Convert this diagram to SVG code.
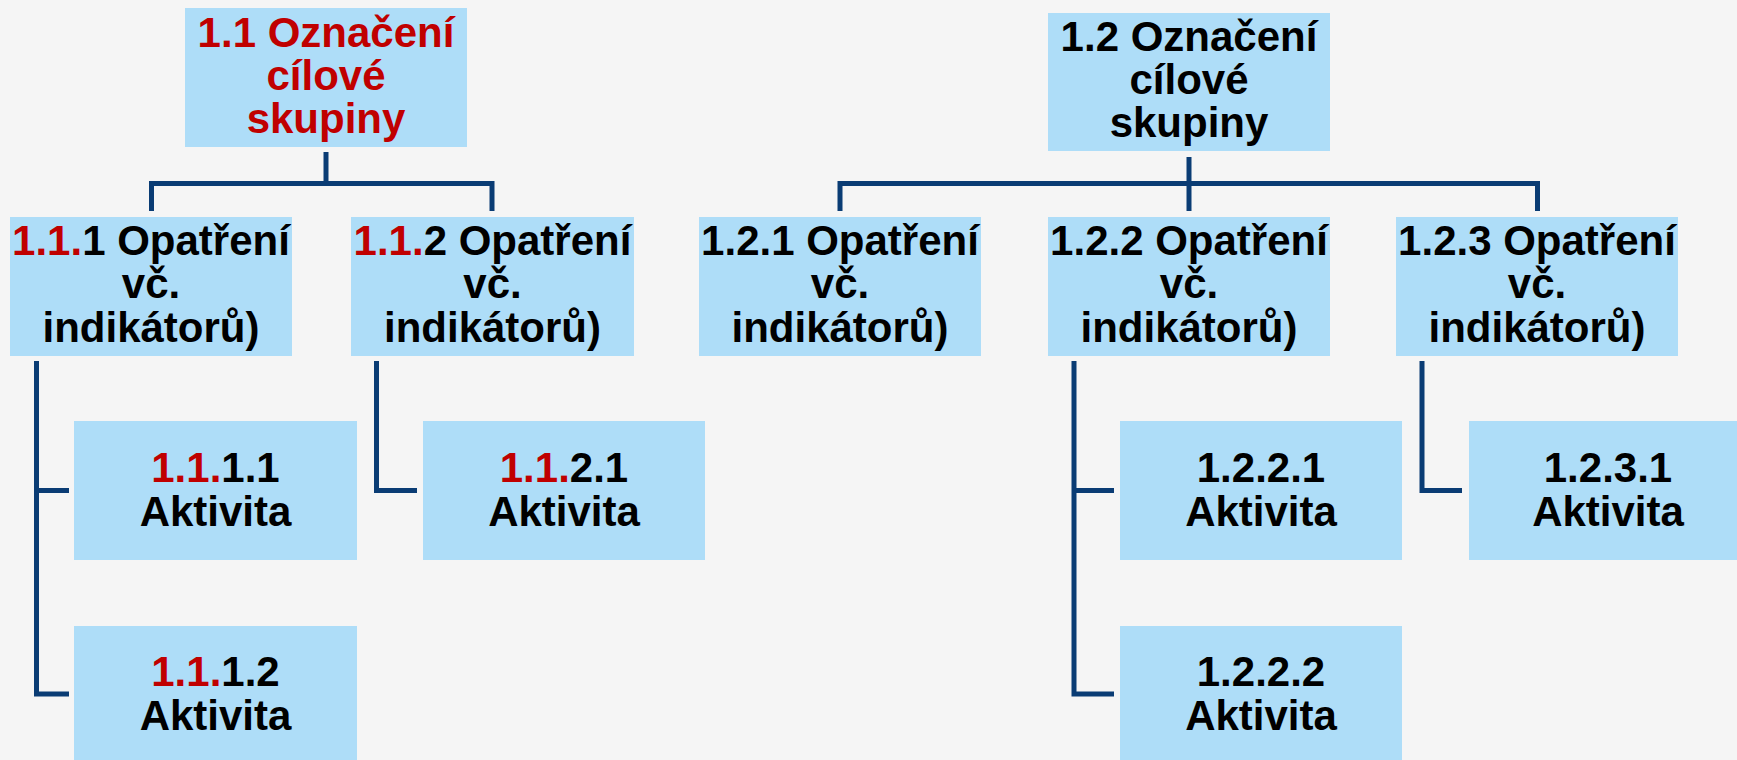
<svg xmlns="http://www.w3.org/2000/svg" width="1737" height="760" viewBox="0 0 1737 760">
<style>
.box{fill:#AEDDF8}
.t{font-family:"Liberation Sans",Arial,sans-serif;font-weight:bold;font-size:42px;fill:#000;text-anchor:middle}
.r{fill:#C00000}
.c{fill:none;stroke:#0A3C74;stroke-width:5;stroke-linejoin:miter}
</style>
<rect width="1737" height="760" fill="#F5F5F5"/>
<g id="connectors">
<path class="c" d="M326 152 V183.5"/>
<path class="c" d="M151.5 211 V183.5 H492 V211"/>
<path class="c" d="M1189 157 V211"/>
<path class="c" d="M840 211 V183.5 H1537.5 V211"/>
<path class="c" d="M36.5 361 V694 H69"/>
<path class="c" d="M36.5 490.5 H69"/>
<path class="c" d="M376.5 361 V490.5 H417"/>
<path class="c" d="M1074 361 V694 H1114"/>
<path class="c" d="M1074 490.5 H1114"/>
<path class="c" d="M1422 361 V490.5 H1462"/>
</g>
<g id="n1_1">
<rect class="box" x="185" y="8" width="282" height="139"/>
<text class="t r" x="326" y="47">1.1 Označení</text>
<text class="t r" x="326" y="90">cílové</text>
<text class="t r" x="326" y="133">skupiny</text>
</g>
<g id="n1_2">
<rect class="box" x="1048" y="13" width="282" height="138"/>
<text class="t" x="1189" y="51">1.2 Označení</text>
<text class="t" x="1189" y="94">cílové</text>
<text class="t" x="1189" y="137">skupiny</text>
</g>
<g id="n1_1_1">
<rect class="box" x="10" y="217" width="282" height="139"/>
<text class="t" x="151" y="255"><tspan class="r">1.1.</tspan>1 Opatření</text>
<text class="t" x="151" y="298">vč.</text>
<text class="t" x="151" y="342">indikátorů)</text>
</g>
<g id="n1_1_2">
<rect class="box" x="351" y="217" width="283" height="139"/>
<text class="t" x="492.5" y="255"><tspan class="r">1.1.</tspan>2 Opatření</text>
<text class="t" x="492.5" y="298">vč.</text>
<text class="t" x="492.5" y="342">indikátorů)</text>
</g>
<g id="n1_2_1">
<rect class="box" x="699" y="217" width="282" height="139"/>
<text class="t" x="840" y="255">1.2.1 Opatření</text>
<text class="t" x="840" y="298">vč.</text>
<text class="t" x="840" y="342">indikátorů)</text>
</g>
<g id="n1_2_2">
<rect class="box" x="1048" y="217" width="282" height="139"/>
<text class="t" x="1189" y="255">1.2.2 Opatření</text>
<text class="t" x="1189" y="298">vč.</text>
<text class="t" x="1189" y="342">indikátorů)</text>
</g>
<g id="n1_2_3">
<rect class="box" x="1396" y="217" width="282" height="139"/>
<text class="t" x="1537" y="255">1.2.3 Opatření</text>
<text class="t" x="1537" y="298">vč.</text>
<text class="t" x="1537" y="342">indikátorů)</text>
</g>
<g id="n1_1_1_1">
<rect class="box" x="74" y="421" width="283" height="139"/>
<text class="t" x="215.5" y="482"><tspan class="r">1.1.</tspan>1.1</text>
<text class="t" x="215.5" y="526">Aktivita</text>
</g>
<g id="n1_1_1_2">
<rect class="box" x="74" y="626" width="283" height="139"/>
<text class="t" x="215.5" y="686"><tspan class="r">1.1.</tspan>1.2</text>
<text class="t" x="215.5" y="730">Aktivita</text>
</g>
<g id="n1_1_2_1">
<rect class="box" x="423" y="421" width="282" height="139"/>
<text class="t" x="564" y="482"><tspan class="r">1.1.</tspan>2.1</text>
<text class="t" x="564" y="526">Aktivita</text>
</g>
<g id="n1_2_2_1">
<rect class="box" x="1120" y="421" width="282" height="139"/>
<text class="t" x="1261" y="482">1.2.2.1</text>
<text class="t" x="1261" y="526">Aktivita</text>
</g>
<g id="n1_2_2_2">
<rect class="box" x="1120" y="626" width="282" height="139"/>
<text class="t" x="1261" y="686">1.2.2.2</text>
<text class="t" x="1261" y="730">Aktivita</text>
</g>
<g id="n1_2_3_1">
<rect class="box" x="1469" y="421" width="282" height="139"/>
<text class="t" x="1608" y="482">1.2.3.1</text>
<text class="t" x="1608" y="526">Aktivita</text>
</g>
</svg>
